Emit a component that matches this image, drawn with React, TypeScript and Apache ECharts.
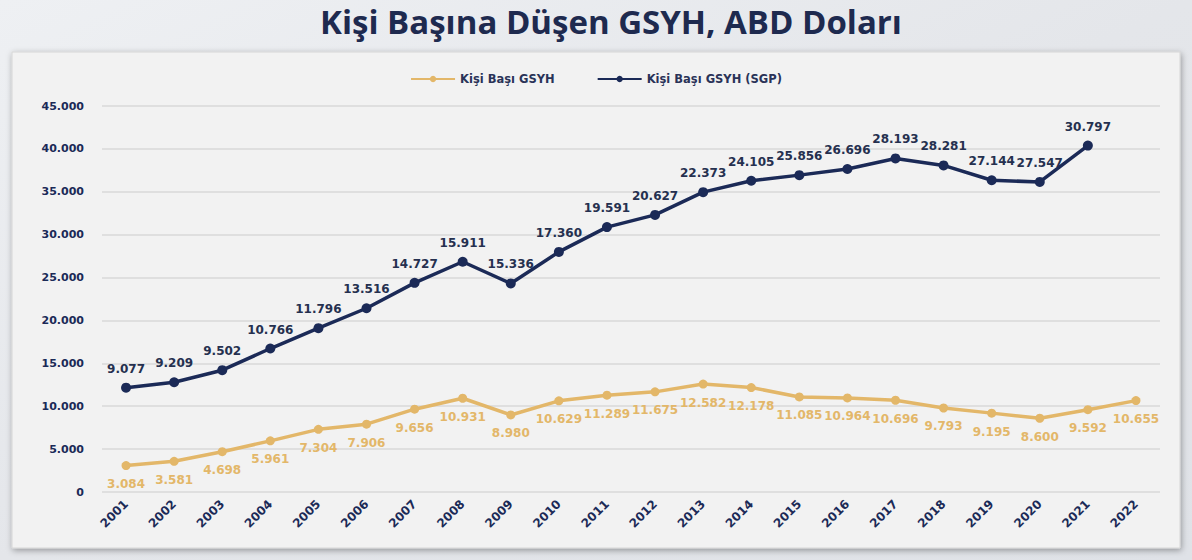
import React, { useEffect, useRef } from "react";
import * as echarts from "echarts";

const years = ["2001","2002","2003","2004","2005","2006","2007","2008","2009","2010","2011","2012","2013","2014","2015","2016","2017","2018","2019","2020","2021","2022"];
const gsyh = [3084,3581,4698,5961,7304,7906,9656,10931,8980,10629,11289,11675,12582,12178,11085,10964,10696,9793,9195,8600,9592,10655];
const gsyhSgp = [9077,9209,9502,10766,11796,13516,14727,15911,15336,17360,19591,20627,22373,24105,25856,26696,28193,28281,27144,27547,30797,null];
const yTicks = [0,5000,10000,15000,20000,25000,30000,35000,40000,45000];

const GOLD = "#E3B769";
const NAVY = "#1B2A57";
const FONT = "DejaVu Sans";

function fmt(v: number): string {
  const s = String(Math.round(v));
  return s.replace(/\B(?=(\d{3})+(?!\d))/g, ".");
}

export default function App() {
  const ref = useRef<HTMLDivElement>(null);
  useEffect(() => {
    if (!ref.current) return;
    const chart = echarts.init(ref.current, null, { renderer: "svg" });
    chart.setOption({
      animation: false,
      backgroundColor: {
        type: "linear", x: 0, y: 0, x2: 1, y2: 1,
        colorStops: [
          { offset: 0, color: "#eef0f3" },
          { offset: 0.5, color: "#e4e6ea" },
          { offset: 1, color: "#dfe2e7" },
        ],
      },
      graphic: [
        {
          type: "rect",
          shape: { x: 12, y: 52, width: 1168, height: 496 },
          style: { fill: "#f2f2f2", stroke: "#d6d6d6", lineWidth: 1, shadowBlur: 6, shadowColor: "rgba(0,0,0,0.35)", shadowOffsetX: 1, shadowOffsetY: 2 },
          z: -10,
        },
      ],
      title: {
        text: "Kişi Başına Düşen GSYH, ABD Doları",
        left: 606,
        textAlign: "center",
        top: 0,
        textStyle: { fontFamily: "Open Sans", fontSize: 33, fontWeight: "bold", color: "#1E2A4F" },
      },
      legend: {
        top: 68,
        left: "center",
        itemWidth: 44,
        itemHeight: 8,
        itemGap: 42,
        textStyle: { fontFamily: FONT, fontSize: 11.5, fontWeight: "bold", color: "#2A3358" },
        data: ["Kişi Başı GSYH", "Kişi Başı GSYH (SGP)"],
      },
      grid: { left: 102, right: 32, top: 106, bottom: 68 },
      xAxis: {
        type: "category",
        data: years,
        boundaryGap: true,
        axisLine: { show: false },
        axisTick: { show: false },
        axisLabel: { rotate: 45, fontFamily: FONT, fontSize: 12, fontWeight: "bold", color: NAVY, margin: 10 },
      },
      yAxis: {
        type: "value",
        min: 0,
        max: yTicks[yTicks.length - 1],
        interval: yTicks[1] - yTicks[0],
        axisLine: { show: false },
        axisTick: { show: false },
        splitLine: { lineStyle: { color: "#d9d9d9", width: 1.5 } },
        axisLabel: { fontFamily: FONT, fontSize: 11, fontWeight: "bold", color: NAVY, margin: 18, formatter: (v: number) => fmt(v) },
      },
      series: [
        {
          name: "Kişi Başı GSYH",
          type: "line",
          stack: "total",
          data: gsyh,
          color: GOLD,
          symbol: "circle",
          symbolSize: 9,
          lineStyle: { width: 3.5, color: GOLD },
          itemStyle: { color: GOLD },
          label: {
            show: true,
            position: "bottom",
            distance: 8,
            fontFamily: FONT,
            fontSize: 12,
            fontWeight: "bold",
            color: GOLD,
            formatter: (p: any) => fmt(p.value),
          },
        },
        {
          name: "Kişi Başı GSYH (SGP)",
          type: "line",
          stack: "total",
          data: gsyhSgp,
          color: NAVY,
          symbol: "circle",
          symbolSize: 10,
          lineStyle: { width: 3.5, color: NAVY },
          itemStyle: { color: NAVY },
          label: {
            show: true,
            position: "top",
            distance: 8,
            fontFamily: FONT,
            fontSize: 12,
            fontWeight: "bold",
            color: "#25304F",
            formatter: (p: any) => (p.value == null ? "" : fmt(p.value)),
          },
        },
      ],
    });
    return () => chart.dispose();
  }, []);
  return <div ref={ref} style={{ position: "absolute", left: 0, top: 0, width: 1192, height: 560 }} />;
}
